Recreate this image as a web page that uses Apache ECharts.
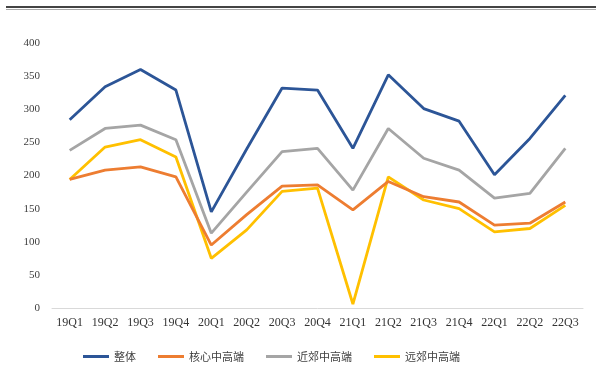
<!DOCTYPE html>
<html>
<head>
<meta charset="utf-8">
<style>
  html, body { margin: 0; padding: 0; background: #ffffff; }
  #chart { width: 596px; height: 390px; }
</style>
<script src="https://cdn.jsdelivr.net/npm/echarts@6/dist/echarts.min.js"></script>
</head>
<body>
<div id="chart"></div>
<script>
// Quarter categories on the x axis
const quarters = ['19Q1','19Q2','19Q3','19Q4','20Q1','20Q2','20Q3','20Q4',
                  '21Q1','21Q2','21Q3','21Q4','22Q1','22Q2','22Q3'];

// Series names shown in the legend
const seriesNames = ['整体', '核心中高端', '近郊中高端', '远郊中高端'];

// Series values per quarter
const overall  = [284, 334, 360, 329, 145, 240, 332, 329, 241, 352, 301, 282, 201, 256, 321];
const core     = [194, 208, 213, 198,  95, 141, 184, 186, 148, 191, 168, 160, 125, 128, 160];
const nearSub  = [238, 271, 276, 254, 113, 175, 236, 241, 178, 271, 226, 208, 166, 173, 241];
const farSub   = [194, 243, 254, 228,  75, 118, 176, 181,   6, 198, 163, 150, 115, 120, 155];

// Y axis ticks
const yMin = 0, yMax = 400, yStep = 50;

const colors = ['#2c5597', '#ed7d31', '#a5a5a5', '#ffc000'];
const seriesData = [overall, core, nearSub, farSub];

const chart = echarts.init(document.getElementById('chart'), null, { renderer: 'canvas' });

chart.setOption({
  backgroundColor: '#ffffff',
  animation: false,
  color: colors,
  grid: { left: 52, right: 13, top: 43, bottom: 82, containLabel: false },
  graphic: [
    { type: 'rect', shape: { x: 6, y: 6, width: 590, height: 2 },
      style: { fill: '#444444' } },
    { type: 'rect', shape: { x: 6, y: 9, width: 590, height: 1 },
      style: { fill: '#aaaaaa' } }
  ],
  legend: {
    data: seriesNames,
    top: 346,
    left: 78,
    itemWidth: 26,
    itemHeight: 3,
    itemGap: 22,
    icon: 'rect',
    textStyle: { color: '#404040', fontSize: 11, fontFamily: 'Noto Sans CJK SC' }
  },
  xAxis: {
    type: 'category',
    data: quarters,
    boundaryGap: true,
    axisLine: { lineStyle: { color: '#d9d9d9', width: 1 } },
    axisTick: { show: false },
    axisLabel: {
      color: '#333333', fontSize: 12, interval: 0, margin: 9,
      fontFamily: 'Liberation Serif'
    }
  },
  yAxis: {
    type: 'value',
    min: yMin, max: yMax, interval: yStep,
    axisLine: { show: false },
    axisTick: { show: false },
    splitLine: { show: false },
    axisLabel: { color: '#404040', fontSize: 11, margin: 12, fontFamily: 'Liberation Serif' }
  },
  series: seriesNames.map((name, i) => ({
    name: name,
    type: 'line',
    data: seriesData[i],
    symbol: 'none',
    lineStyle: { width: 2.8, color: colors[i] },
    z: 10 - i
  }))
});
</script>
</body>
</html>
